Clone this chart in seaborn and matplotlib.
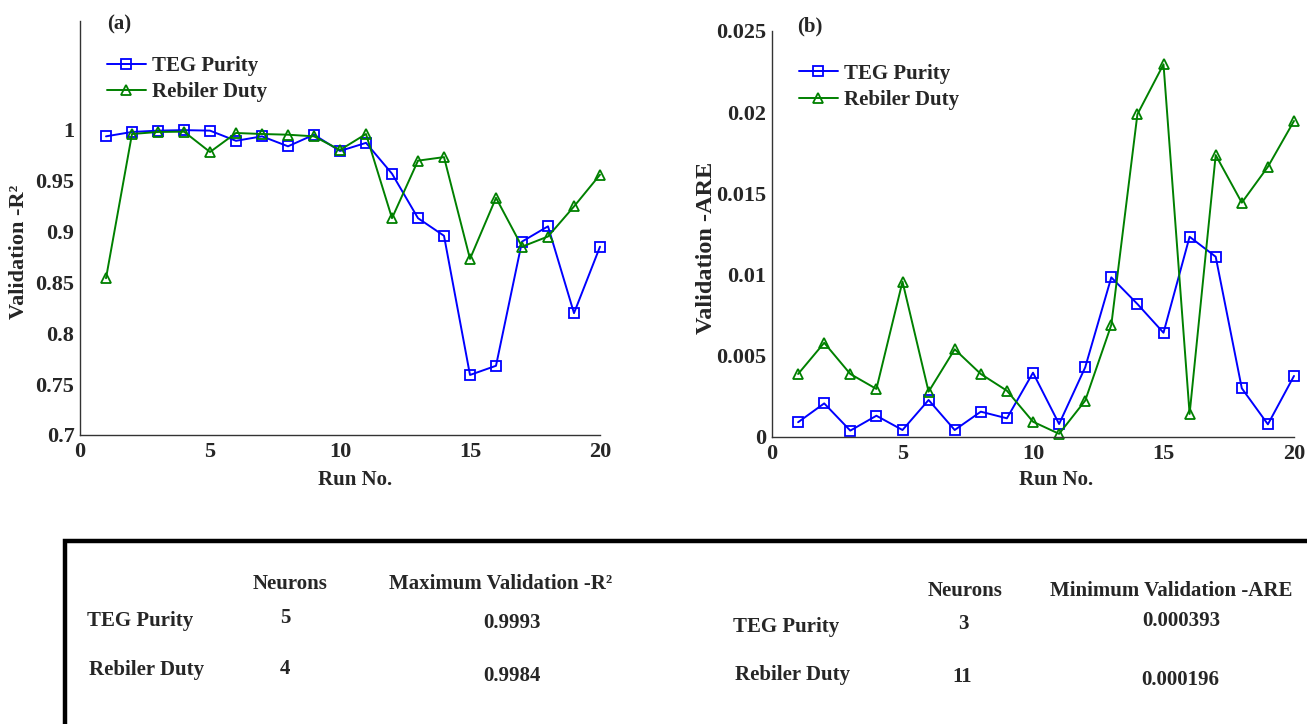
import numpy as np
import pandas as pd
import matplotlib
matplotlib.use("Agg")
import matplotlib.pyplot as plt
import seaborn as sns
from matplotlib.patches import Rectangle
from matplotlib.ticker import FuncFormatter

runs = list(range(1, 21))
r2_teg = [0.9934, 0.9977, 0.999, 0.9995, 0.999, 0.989, 0.9934, 0.9836, 0.995, 0.979,
          0.987, 0.9567, 0.913, 0.8957, 0.759, 0.768, 0.890, 0.905, 0.8197, 0.885]
r2_reb = [0.854, 0.9957, 0.9977, 0.998, 0.978, 0.9967, 0.9957, 0.995, 0.9934, 0.980,
          0.9957, 0.913, 0.9695, 0.973, 0.873, 0.933, 0.885, 0.895, 0.9245, 0.9557]
are_teg = [0.00091, 0.00207, 0.000393, 0.00131, 0.00043, 0.00228, 0.00043, 0.00156, 0.00115, 0.00396,
           0.0008, 0.00429, 0.00983, 0.00819, 0.00642, 0.01233, 0.0111, 0.0030, 0.00078, 0.00376]
are_reb = [0.00388, 0.0058, 0.00388, 0.00296, 0.00957, 0.00279, 0.0054, 0.00388, 0.00285, 0.00094,
           0.000196, 0.00224, 0.0069, 0.01987, 0.02295, 0.00142, 0.01736, 0.01443, 0.01664, 0.01946]
series_names = ["TEG Purity", "Rebiler Duty"]
best_neurons_r2 = ["5", "4"]
best_r2 = ["0.9993", "0.9984"]
best_neurons_are = ["3", "11"]
best_are = ["0.000393", "0.000196"]

sns.set_style("white")
plt.rcParams["font.family"] = ["Liberation Serif", "DejaVu Serif"]
plt.rcParams["font.weight"] = "bold"
plt.rcParams["axes.labelweight"] = "bold"

fig = plt.figure(figsize=(13.07, 7.24), dpi=100)
W, H = 1307, 724
def ax_rect(x0, x1, ytop, ybot):
    return [x0 / W, 1 - ybot / H, (x1 - x0) / W, (ybot - ytop) / H]

axA = fig.add_axes(ax_rect(80, 600, 20.7, 435))
axB = fig.add_axes(ax_rect(772, 1294, 31, 437))

colors = ["#0000ff", "#008000"]
markers = ["s", "^"]

def draw(ax, ys):
    for name, y, c, m in zip(series_names, ys, colors, markers):
        df = pd.DataFrame({"run": runs, "val": y})
        sns.lineplot(data=df, x="run", y="val", ax=ax, color=c, marker=m,
                     markersize=7.5, markerfacecolor="none", markeredgecolor=c,
                     markeredgewidth=1.3, linewidth=1.4, label=name, clip_on=False)

fmt = FuncFormatter(lambda v, p: ("%g" % round(v, 4)))

draw(axA, [r2_teg, r2_reb])
draw(axB, [are_teg, are_reb])

for ax in (axA, axB):
    ax.set_xlim(0, 20)
    ax.set_xticks([0, 5, 10, 15, 20])
    for s in ("top", "right"):
        ax.spines[s].set_visible(False)
    for s in ("left", "bottom"):
        ax.spines[s].set_color("#333333")
        ax.spines[s].set_linewidth(1.0)
    ax.tick_params(direction="in", length=5, width=0.9, color="#333333",
                   labelsize=16, pad=4)
    ax.tick_params(axis="x", pad=5)
    ax.yaxis.set_major_formatter(fmt)
    for lab in ax.get_xticklabels() + ax.get_yticklabels():
        lab.set_fontweight("bold")
    ax.set_xlabel("Run No.", fontsize=15, fontweight="bold", labelpad=0)
    ax.legend(loc="upper left", frameon=False, handlelength=1.9,
              handletextpad=0.3, labelspacing=0.3, borderaxespad=0.0,
              prop={"weight": "bold", "size": 15})
    ax.grid(False)

axA.set_ylim(0.7, 1.107)
axA.set_yticks([0.7, 0.75, 0.8, 0.85, 0.9, 0.95, 1.0])
axA.yaxis.set_major_formatter(fmt)
axA.set_ylabel("Validation -R\u00b2", fontsize=16, fontweight="bold")
axA.yaxis.set_label_coords((29 - 80) / 520, (435 - 252) / 414.3)
axA.xaxis.set_label_coords((355 - 80) / 520, -(470 - 435) / 414.3)
axA.xaxis.label.set_va("top")
axA.legend_.set_bbox_to_anchor((0.035, 0.935))
axA.text(0.052, 1.015, "(a)", transform=axA.transAxes, fontsize=15, fontweight="bold",
         va="top", ha="left")

axB.set_ylim(0, 0.025)
axB.set_yticks([0, 0.005, 0.01, 0.015, 0.02, 0.025])
axB.yaxis.set_major_formatter(fmt)
axB.set_ylabel("Validation -ARE", fontsize=17.5, fontweight="bold")
axB.yaxis.set_label_coords((717 - 772) / 522, (437 - 248) / 406)
axB.xaxis.set_label_coords((1056 - 772) / 522, -(470 - 437) / 406)
axB.xaxis.label.set_va("top")
axB.legend_.set_bbox_to_anchor((0.035, 0.94))
axB.text(0.048, 1.035, "(b)", transform=axB.transAxes, fontsize=15, fontweight="bold",
         va="top", ha="left")

# summary table box
fig.patches.append(Rectangle((65 / W, -0.02), 1.0, 1 - 541 / H + 0.02,
                             transform=fig.transFigure, fill=False,
                             edgecolor="black", linewidth=3.2, clip_on=False))

def ft(x, y, s, ha="center"):
    fig.text(x / W, 1 - y / H, s, ha=ha, va="center", fontsize=15, fontweight="bold")

ft(290, 584, "Neurons")
ft(501, 584, "Maximum Validation -R\u00b2")
ft(965, 591, "Neurons")
ft(1171, 591, "Minimum Validation -ARE")
ft(87, 621, series_names[0], ha="left")
ft(89, 670, series_names[1], ha="left")
ft(285, 618, best_neurons_r2[0])
ft(285, 669, best_neurons_r2[1])
ft(512, 623, best_r2[0])
ft(512, 676, best_r2[1])
ft(733, 627, series_names[0], ha="left")
ft(735, 675, series_names[1], ha="left")
ft(963, 624, best_neurons_are[0])
ft(962, 677, best_neurons_are[1])
ft(1181, 621, best_are[0])
ft(1180, 680, best_are[1])

fig.savefig("out.png", dpi=100)
